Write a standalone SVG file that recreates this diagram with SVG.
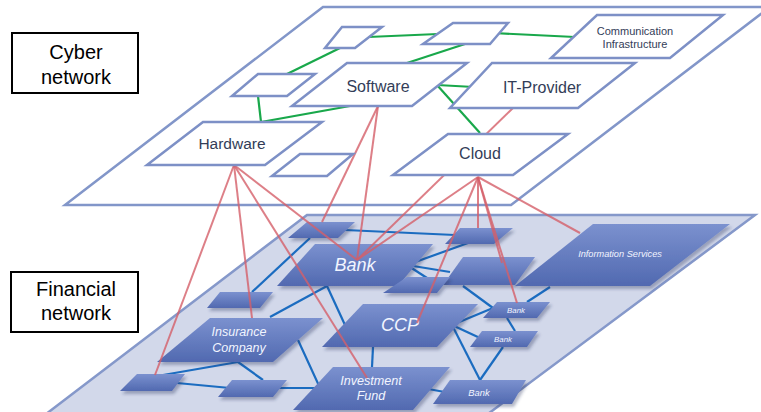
<svg xmlns="http://www.w3.org/2000/svg" width="761" height="412" viewBox="0 0 761 412">
<defs>
<linearGradient id="fin" x1="0" y1="0" x2="0" y2="1">
<stop offset="0" stop-color="#7b91cf"/>
<stop offset="1" stop-color="#5169b0"/>
</linearGradient>
<filter id="sh" x="-20%" y="-20%" width="140%" height="160%">
<feDropShadow dx="2" dy="3" stdDeviation="1.8" flood-color="#2a3560" flood-opacity="0.35"/>
</filter>
</defs>
<style>
.plane-top{fill:#ffffff;stroke:#8296c9;stroke-width:2.5}
.plane-bot{fill:#d2d8ea;stroke:#8598ca;stroke-width:2.5}
.cy{fill:#ffffff;stroke:#7d90c6;stroke-width:2.5}
.fn{fill:url(#fin);filter:url(#sh)}
.cyt{font-family:"Liberation Sans",Arial,sans-serif;fill:#333d58;text-anchor:middle}
.fnt{font-family:"Liberation Sans",Arial,sans-serif;fill:#f2f5ff;font-style:italic;text-anchor:middle}
.lbl{font-family:"Liberation Sans",Arial,sans-serif;fill:#000;font-size:20px;text-anchor:middle}
.box{fill:#fff;stroke:#000;stroke-width:2}
.g{stroke:#19a84b;stroke-width:2.2;fill:none}
.r{stroke:#d45f69;stroke-opacity:0.8;stroke-width:2;fill:none}
.b{stroke:#1b6cc0;stroke-width:2.2;fill:none}
</style>

<polygon class="plane-bot" points="307,215 755,215 453,440 12,440"/>

<g id="blue-connectors">
<line class="b" x1="310" y1="238" x2="252" y2="292"/>
<line class="b" x1="345" y1="230" x2="455" y2="235"/>
<line class="b" x1="407" y1="265" x2="468" y2="243"/>
<line class="b" x1="407" y1="265" x2="450" y2="272"/>
<line class="b" x1="407" y1="265" x2="427" y2="278"/>
<line class="b" x1="327" y1="286" x2="270" y2="317"/>
<line class="b" x1="327" y1="286" x2="345" y2="325"/>
<polyline class="b" points="298,340 320,388 330,388"/>
<line class="b" x1="275" y1="388" x2="320" y2="388"/>
<line class="b" x1="373" y1="347" x2="372" y2="367"/>
<line class="b" x1="238" y1="362" x2="163" y2="375"/>
<line class="b" x1="238" y1="362" x2="263" y2="380"/>
<line class="b" x1="177" y1="383" x2="230" y2="388"/>
<line class="b" x1="452" y1="325" x2="493" y2="308"/>
<line class="b" x1="452" y1="325" x2="480" y2="338"/>
<line class="b" x1="452" y1="325" x2="480" y2="380"/>
<line class="b" x1="463" y1="286" x2="493" y2="308"/>
<line class="b" x1="507" y1="318" x2="515" y2="331"/>
<line class="b" x1="503" y1="347" x2="480" y2="380"/>
<line class="b" x1="527" y1="302" x2="550" y2="287"/>
<line class="b" x1="423" y1="388" x2="450" y2="393"/>
</g>

<g id="fin-E"><polygon class="fn" points="307,222 355,222 338,238 288,238"/></g>
<g id="fin-G"><polygon class="fn" points="463,257 535,257 515,285 443,285"/></g>
<g id="fin-F"><polygon class="fn" points="460,228 513,228 494,244 445,244"/></g>
<g id="fin-bank"><polygon class="fn" points="315,244 433,244 398,286 277,286"/>
<text class="fnt" x="355" y="271" font-size="18">Bank</text></g>
<g id="fin-I"><polygon class="fn" points="407,277 450,277 437,293 383,293"/></g>
<g id="fin-H"><polygon class="fn" points="220,292 273,292 260,308 207,308"/></g>
<g id="fin-insurance"><polygon class="fn" points="210,318 323,318 273,362 157,362"/>
<text class="fnt" x="239" y="336" font-size="12.5">Insurance</text>
<text class="fnt" x="239" y="352" font-size="12.5">Company</text></g>
<g id="fin-ccp"><polygon class="fn" points="363,304 478,304 437,347 322,347"/>
<text class="fnt" x="400" y="331" font-size="18">CCP</text></g>
<g id="fin-info"><polygon class="fn" points="593,224 730,224 650,286 515,286"/>
<text class="fnt" x="620" y="257" font-size="9.2">Information Services</text></g>
<g id="fin-bank1"><polygon class="fn" points="497,302 550,302 537,318 483,318"/>
<text class="fnt" x="516" y="313" font-size="7.8">Bank</text></g>
<g id="fin-bank2"><polygon class="fn" points="482,331 538,331 527,347 470,347"/>
<text class="fnt" x="503" y="342" font-size="7.8">Bank</text></g>
<g id="fin-bank3"><polygon class="fn" points="450,380 526,380 512,404 433,404"/>
<text class="fnt" x="479" y="396" font-size="9.4">Bank</text></g>
<g id="fin-fund"><polygon class="fn" points="333,367 450,367 413,410 293,410"/>
<text class="fnt" x="371" y="385" font-size="12.6">Investment</text>
<text class="fnt" x="371" y="400" font-size="12.6">Fund</text></g>
<g id="fin-J"><polygon class="fn" points="137,374 185,374 172,391 120,391"/></g>
<g id="fin-K"><polygon class="fn" points="232,380 287,380 273,397 218,397"/></g>

<polygon class="plane-top" points="323,7 770,7 511,205 65,205"/>

<g id="red-connectors">
<line class="r" x1="234" y1="165" x2="155" y2="375"/>
<line class="r" x1="234" y1="165" x2="252" y2="318"/>
<line class="r" x1="234" y1="165" x2="367" y2="378"/>
<line class="r" x1="234" y1="165" x2="357" y2="260"/>
<line class="r" x1="378" y1="106" x2="322" y2="222"/>
<line class="r" x1="378" y1="106" x2="357" y2="260"/>
<line class="r" x1="513" y1="108" x2="357" y2="260"/>
<line class="r" x1="478" y1="177" x2="357" y2="260"/>
<line class="r" x1="478" y1="177" x2="417" y2="323"/>
<line class="r" x1="478" y1="177" x2="478" y2="228"/>
<line class="r" x1="478" y1="177" x2="502" y2="263"/>
<line class="r" x1="478" y1="177" x2="517" y2="303"/>
<line class="r" x1="478" y1="177" x2="580" y2="233"/>
</g>

<g id="green-connectors">
<line class="g" x1="368" y1="37" x2="438" y2="34"/>
<line class="g" x1="465" y1="44" x2="407" y2="63"/>
<line class="g" x1="340" y1="48" x2="287" y2="74"/>
<polyline class="g" points="258,96 261,122 350,106"/>
<line class="g" x1="437" y1="85" x2="474" y2="87"/>
<line class="g" x1="437" y1="85" x2="480" y2="133"/>
<line class="g" x1="493" y1="33" x2="575" y2="37"/>
</g>

<g id="cy-A"><polygon class="cy" points="342,27 382,27 355,48 325,48"/></g>
<g id="cy-D"><polygon class="cy" points="453,23 508,23 490,44 423,44"/></g>
<g id="cy-B"><polygon class="cy" points="258,74 315,74 287,96 232,96"/></g>
<g id="cy-C"><polygon class="cy" points="300,154 353,154 327,176 272,176"/></g>
<g id="cy-comm"><polygon class="cy" points="597,15 723,15 670,58 551,58"/>
<text class="cyt" x="635" y="35" font-size="11">Communication</text>
<text class="cyt" x="635" y="48" font-size="11">Infrastructure</text></g>
<g id="cy-software"><polygon class="cy" points="347,63 467,63 412,106 292,106"/>
<text class="cyt" x="378" y="92" font-size="16">Software</text></g>
<g id="cy-itprovider"><polygon class="cy" points="492,63 635,63 578,108 450,108"/>
<text class="cyt" x="542" y="93" font-size="16">IT-Provider</text></g>
<g id="cy-hardware"><polygon class="cy" points="203,122 322,122 265,165 147,165"/>
<text class="cyt" x="232" y="149" font-size="15.5">Hardware</text></g>
<g id="cy-cloud"><polygon class="cy" points="448,134 568,134 513,175 393,175"/>
<text class="cyt" x="480" y="159" font-size="16">Cloud</text></g>

<g id="label-cyber"><rect class="box" x="12" y="33" width="126" height="60"/>
<text class="lbl" x="76" y="59">Cyber</text>
<text class="lbl" x="76" y="84">network</text></g>
<g id="label-financial"><rect class="box" x="11" y="272" width="127" height="60"/>
<text class="lbl" x="76" y="296">Financial</text>
<text class="lbl" x="76" y="320">network</text></g>
</svg>
